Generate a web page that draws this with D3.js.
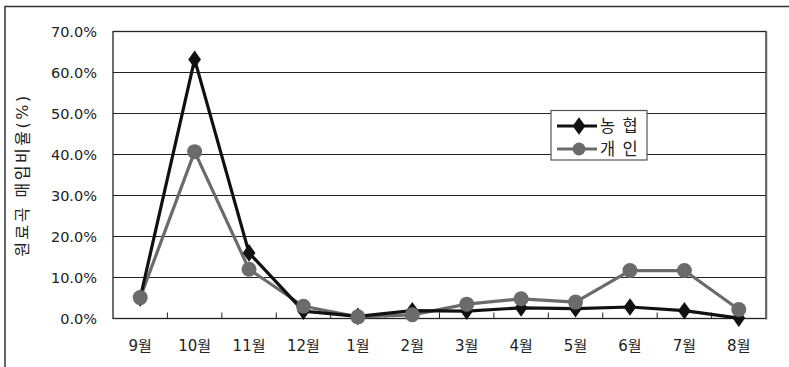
<!DOCTYPE html>
<html><head><meta charset="utf-8">
<script src="https://cdn.jsdelivr.net/npm/d3@7"></script>
<style>
html,body{margin:0;padding:0;background:#fff;}
svg{display:block;}
text{font-family:"DejaVu Sans","Noto Sans CJK KR",sans-serif;}
</style></head>
<body>
<svg id="c" width="789" height="367"></svg>
<script>
const months = ["9월","10월","11월","12월","1월","2월","3월","4월","5월","6월","7월","8월"];
const nonghyup = [5.0,63.2,16.0,1.8,0.5,1.9,1.8,2.6,2.4,2.8,1.9,0.1];
const gaein = [5.1,40.7,12.0,3.0,0.4,0.9,3.5,4.8,4.0,11.7,11.7,2.2];
const yTicks = [0,10,20,30,40,50,60,70];
const seriesNames = ["농 협","개 인"];
const yTitle = "원료곡 매입비율(%)";

const svg = d3.select("#c");
const L=113, R=766, T=31.5, B=318.5;

// outer frame
svg.append("rect").attr("x",5).attr("y",6.5).attr("width",900).attr("height",500)
  .attr("fill","none").attr("stroke","#333").attr("stroke-width",1.5);

const x = d3.scaleBand().domain(months).range([L,R]);
const y = d3.scaleLinear().domain([0,70]).range([B,T]);

// gridlines
svg.append("g").selectAll("line").data(yTicks.slice(1)).join("line")
  .attr("x1",L).attr("x2",R).attr("y1",d=>y(d)).attr("y2",d=>y(d))
  .attr("stroke","#222").attr("stroke-width",1.2);

// plot border
svg.append("rect").attr("x",L).attr("y",T).attr("width",R-L).attr("height",B-T)
  .attr("fill","none").attr("stroke","#222").attr("stroke-width",1.3);
svg.append("line").attr("x1",R+0.5).attr("x2",R+0.5).attr("y1",T).attr("y2",B+1)
  .attr("stroke","#666").attr("stroke-width",1.5);

// x ticks (inward, at band boundaries)
svg.append("g").selectAll("line").data(months.slice(1)).join("line")
  .attr("x1",d=>x(d)).attr("x2",d=>x(d)).attr("y1",B).attr("y2",B-6)
  .attr("stroke","#222").attr("stroke-width",1);

// y tick labels
svg.append("g").selectAll("text").data(yTicks).join("text")
  .attr("x",97).attr("y",d=>y(d)).attr("dy","0.4em").attr("text-anchor","end")
  .attr("font-size",14.5).attr("fill","#222").text(d=>d.toFixed(1)+"%");

// x labels
svg.append("g").selectAll("text").data(months).join("text")
  .attr("x",d=>x(d)+x.bandwidth()/2).attr("y",351).attr("text-anchor","middle")
  .attr("font-size",15).attr("fill","#222").text(d=>d);

// y title
svg.append("text").attr("transform","translate(28,175) rotate(-90)")
  .attr("text-anchor","middle").attr("font-size",16).attr("letter-spacing",2.5)
  .attr("fill","#222").text(yTitle);

const cx = d=>x(d)+x.bandwidth()/2;
const line = d3.line().x((d,i)=>cx(months[i])).y(d=>y(d));
const gray = "#6b6b6b";

svg.append("path").datum(gaein).attr("d",line).attr("fill","none")
  .attr("stroke",gray).attr("stroke-width",3.2).attr("stroke-linejoin","round");
svg.append("path").datum(nonghyup).attr("d",line).attr("fill","none")
  .attr("stroke","#111").attr("stroke-width",3.2).attr("stroke-linejoin","round");
svg.append("g").selectAll("path").data(nonghyup).join("path")
  .attr("d",d3.symbol().type(d3.symbolDiamond).size(90))
  .attr("transform",(d,i)=>`translate(${cx(months[i])},${y(d)}) scale(1.25,1)`)
  .attr("fill","#111");
svg.append("g").selectAll("circle").data(gaein).join("circle")
  .attr("cx",(d,i)=>cx(months[i])).attr("cy",d=>y(d)).attr("r",7.5).attr("fill",gray);

// legend
const lg = svg.append("g");
lg.append("rect").attr("x",551).attr("y",110.5).attr("width",96).attr("height",49.5)
  .attr("fill","#fff").attr("stroke","#555").attr("stroke-width",1.2);
const rows = [{n:seriesNames[0],c:"#111",m:"d",yy:126},{n:seriesNames[1],c:gray,m:"c",yy:149}];
rows.forEach(r=>{
  lg.append("line").attr("x1",557).attr("x2",597).attr("y1",r.yy).attr("y2",r.yy)
    .attr("stroke",r.c).attr("stroke-width",3);
  if(r.m==="d") lg.append("path").attr("d",d3.symbol().type(d3.symbolDiamond).size(90))
    .attr("transform",`translate(579,${r.yy}) scale(1.25,1)`).attr("fill",r.c);
  else lg.append("circle").attr("cx",579).attr("cy",r.yy).attr("r",6.5).attr("fill",r.c);
  lg.append("text").attr("x",600).attr("y",r.yy).attr("dy","0.38em").attr("font-size",16.5)
    .attr("letter-spacing",1).attr("fill","#222").text(r.n);
});
</script>
</body></html>
